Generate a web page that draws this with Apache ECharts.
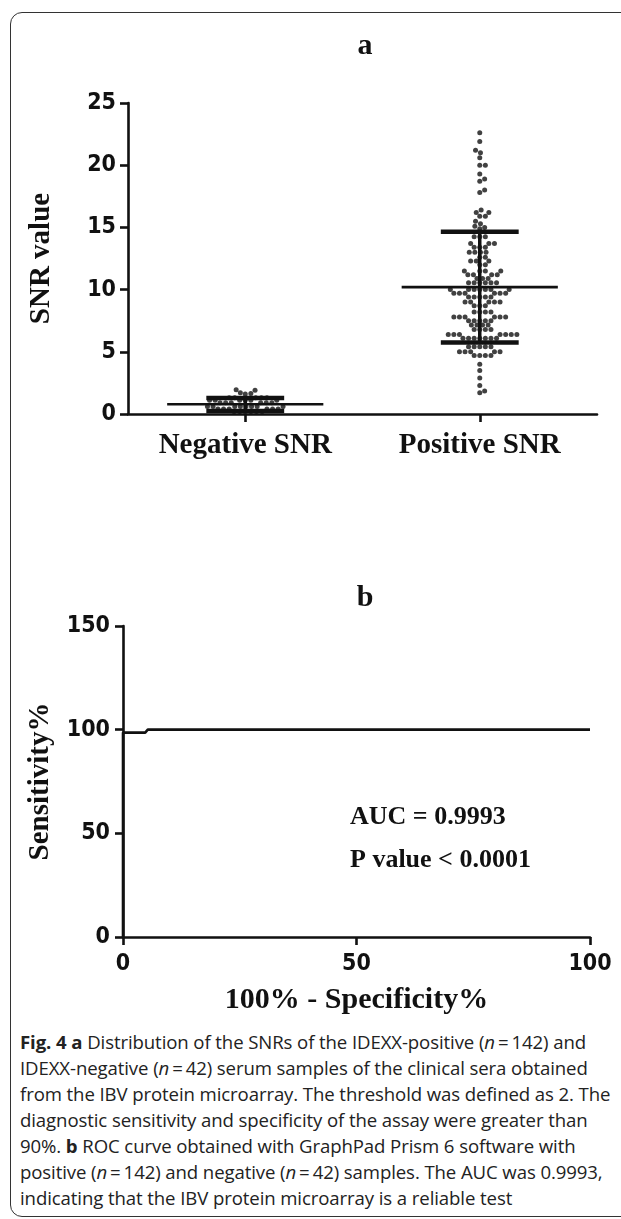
<!DOCTYPE html>
<html>
<head>
<meta charset="utf-8">
<script src="https://cdn.jsdelivr.net/npm/echarts@6/dist/echarts.min.js"></script>
<style>
  html, body { margin: 0; padding: 0; background: #fff; }
  #frame { position: absolute; left: 10px; top: 12px; width: 660px; height: 1205px;
           border: 1.5px solid #333; border-radius: 12px; box-sizing: border-box; }
  #main { position: absolute; left: 0; top: 0; width: 621px; height: 1020px; }
  #caption { position: absolute; left: 20px; top: 1029px; width: 600px; letter-spacing: -0.1px;
             font-family: "Open Sans"; font-size: 18.6px; line-height: 26px; color: #222; }
</style>
</head>
<body>
<div id="frame"></div>
<div id="main"></div>
<div id="caption"><b>Fig. 4 a</b> Distribution of the SNRs of the IDEXX-positive (<i>n</i>&#8201;=&#8201;142) and IDEXX-negative (<i>n</i>&#8201;=&#8201;42) serum samples of the clinical sera obtained from the IBV protein microarray. The threshold was defined as 2. The diagnostic sensitivity and specificity of the assay were greater than 90%. <b>b</b> ROC curve obtained with GraphPad Prism 6 software with positive (<i>n</i>&#8201;=&#8201;142) and negative (<i>n</i>&#8201;=&#8201;42) samples. The AUC was 0.9993, indicating that the IBV protein microarray is a reliable test</div>

<script>
// panel a: SNR values (rows of the swarm)
const groupNames = ['Negative SNR', 'Positive SNR']
const negativeSNR = [
  1.95, 1.9, 1.7, 1.65, 1.6,
  1.3, 1.3, 1.3, 1.3, 1.3,
  1.1, 1.1, 1.1, 1.1, 1.1, 1.1,
  0.9, 0.9, 0.9, 0.9, 0.9, 0.9,
  0.6, 0.6, 0.6, 0.6, 0.6, 0.6, 0.6, 0.6,
  0.4, 0.4, 0.4, 0.4, 0.4, 0.4,
  0.2, 0.2, 0.2, 0.2, 0.2, 0.2
]
const positiveSNR = [
  22.6, 21.9, 21.2, 21.0, 20.6, 20.0, 20.0, 19.3, 18.9, 18.7, 18.0, 17.8,
  16.4, 16.2, 16.2, 15.9, 15.9, 15.5, 15.3, 15.1, 15.0, 14.9,
  14.25, 14.25, 14.25, 13.7, 13.7, 13.7, 13.4, 13.4, 13.4,
  13.0, 13.0, 13.0, 13.0, 12.6, 12.6, 12.3, 12.3, 12.3, 12.0, 12.0,
  11.5, 11.5, 11.5, 11.5, 11.2, 11.2, 11.2, 11.2, 10.9, 10.9, 10.9,
  10.55, 10.55, 10.55, 10.55, 10.55, 10.55,
  10.0, 10.0, 10.0, 10.0, 10.0, 10.0, 10.0,
  9.7, 9.7, 9.7, 9.7, 9.7, 9.7, 9.4, 9.4, 9.4, 9.4, 9.4,
  9.0, 9.0, 9.0, 9.0, 9.0, 8.7, 8.7, 8.7, 8.2, 8.2, 8.2, 8.2,
  7.8, 7.8, 7.8, 7.8, 7.8, 7.8, 7.5, 7.5, 7.5, 7.5, 7.5,
  7.15, 7.15, 7.15, 7.15, 6.8, 6.8, 6.8, 6.8,
  6.4, 6.4, 6.4, 6.4, 6.4, 6.4, 6.4,
  6.08, 6.08, 6.08, 6.08, 6.08, 6.08, 6.08,
  5.4, 5.4, 5.4, 5.4, 5.4, 5.0, 5.0, 5.0, 5.0, 5.0, 4.7, 4.7, 4.7, 4.7,
  4.0, 3.5, 2.9, 2.3, 1.85, 1.7
]
// mean and mean±SD bars as drawn
const meanValues = [0.78, 10.2]
const sdLow = [0.25, 5.75]
const sdHigh = [1.28, 14.65]

// panel b: ROC curve
const rocX = [0, 0, 4.76, 5.3, 100]
const rocY = [0, 98.59, 98.59, 100, 100]
const aucText = 'AUC = 0.9993'
const pText = 'P value < 0.0001'

const narrow = '"Liberation Sans Narrow", "DejaVu Sans Condensed", sans-serif'
const serif = '"Liberation Serif", "DejaVu Serif", serif'
const ink = '#111'
const groupX = [0.5, 1.5]

// simple beeswarm so the dots do not overlap (pixel space of grid a)
function swarm (values, center) {
  const dot = 5
  const pxPerY = 311 / 25
  const pxPerX = 469 / 2
  const placed = []
  return values.slice().sort((a, b) => a - b).map(v => {
    const y = v * pxPerY
    let off = 0
    for (let k = 0; k < 300; k++) {
      const cand = (k % 2 ? 1 : -1) * Math.ceil(k / 2) * 0.7
      if (placed.every(p => (p[0] - cand) ** 2 + (p[1] - y) ** 2 >= dot * dot)) { off = cand; break }
    }
    placed.push([off, y])
    return [center + off / pxPerX, v]
  })
}

const line = { show: true, lineStyle: { color: ink, width: 2.6 } }
const tick = { show: true, length: 8, lineStyle: { color: ink, width: 2.6 } }
const tickLabel = { fontFamily: narrow, fontWeight: 'bold', fontSize: 23, color: ink }

const myChart = echarts.init(document.getElementById('main'))
myChart.setOption({
  animation: false,
  grid: [
    { left: 128, top: 103, width: 469, height: 311 },
    { left: 123, top: 626, width: 467, height: 311 }
  ],
  xAxis: [
    {
      gridIndex: 0, type: 'value', min: 0, max: 2,
      axisLine: line,
      axisTick: Object.assign({}, tick, { customValues: groupX }),
      splitLine: { show: false },
      axisLabel: {
        customValues: groupX, margin: 17,
        formatter: v => groupNames[groupX.indexOf(v)],
        fontFamily: serif, fontWeight: 'bold', fontSize: 29, color: ink
      }
    },
    {
      gridIndex: 1, type: 'value', min: 0, max: 100, interval: 50,
      axisLine: line, axisTick: tick, splitLine: { show: false },
      axisLabel: Object.assign({ margin: 16 }, tickLabel),
      name: '100% - Specificity%', nameLocation: 'middle', nameGap: 48,
      nameTextStyle: { fontFamily: serif, fontWeight: 'bold', fontSize: 30, color: ink }
    }
  ],
  yAxis: [
    {
      gridIndex: 0, type: 'value', min: 0, max: 25, interval: 5,
      axisLine: line, axisTick: tick, splitLine: { show: false },
      axisLabel: Object.assign({ margin: 12 }, tickLabel),
      name: 'SNR value', nameLocation: 'middle', nameGap: 72,
      nameTextStyle: { fontFamily: serif, fontWeight: 'bold', fontSize: 29, color: ink }
    },
    {
      gridIndex: 1, type: 'value', min: 0, max: 150, interval: 50,
      axisLine: line, axisTick: tick, splitLine: { show: false },
      axisLabel: Object.assign({ margin: 13 }, tickLabel),
      name: 'Sensitivity%', nameLocation: 'middle', nameGap: 68,
      nameTextStyle: { fontFamily: serif, fontWeight: 'bold', fontSize: 29, color: ink }
    }
  ],
  graphic: [
    { type: 'text', x: 365, y: 46, style: { text: 'a', textAlign: 'center', textVerticalAlign: 'middle', font: 'bold 30px ' + serif, fill: ink } },
    { type: 'text', x: 365, y: 598, style: { text: 'b', textAlign: 'center', textVerticalAlign: 'middle', font: 'bold 30px ' + serif, fill: ink } },
    { type: 'text', x: 350, y: 817, style: { text: aucText, textVerticalAlign: 'middle', font: 'bold 26px ' + serif, fill: ink } },
    { type: 'text', x: 350, y: 860, style: { text: pText, textVerticalAlign: 'middle', font: 'bold 26px ' + serif, fill: ink } }
  ],
  series: [
    {
      type: 'scatter', xAxisIndex: 0, yAxisIndex: 0, symbolSize: 5,
      itemStyle: { color: ink },
      data: swarm(negativeSNR, groupX[0]).concat(swarm(positiveSNR, groupX[1]))
    },
    {
      type: 'custom', xAxisIndex: 0, yAxisIndex: 0, z: 5,
      data: groupX.map((x, i) => [x, meanValues[i], sdLow[i], sdHigh[i]]),
      renderItem (params, api) {
        const x = api.value(0)
        const m = api.coord([x, api.value(1)])
        const lo = api.coord([x, api.value(2)])
        const hi = api.coord([x, api.value(3)])
        const wMean = api.size([0.333, 0])[0]
        const wSd = api.size([0.166, 0])[0]
        return {
          type: 'group',
          children: [
            { type: 'line', shape: { x1: hi[0], y1: hi[1], x2: lo[0], y2: lo[1] }, style: { stroke: ink, lineWidth: 3.5 } },
            { type: 'line', shape: { x1: m[0] - wMean, y1: m[1], x2: m[0] + wMean, y2: m[1] }, style: { stroke: ink, lineWidth: 2.6 } },
            { type: 'line', shape: { x1: hi[0] - wSd, y1: hi[1], x2: hi[0] + wSd, y2: hi[1] }, style: { stroke: ink, lineWidth: 4.5 } },
            { type: 'line', shape: { x1: lo[0] - wSd, y1: lo[1], x2: lo[0] + wSd, y2: lo[1] }, style: { stroke: ink, lineWidth: 4.5 } }
          ]
        }
      }
    },
    {
      type: 'line', xAxisIndex: 1, yAxisIndex: 1, showSymbol: false,
      lineStyle: { color: ink, width: 2.6 },
      data: rocX.map((x, i) => [x, rocY[i]])
    }
  ]
})
</script>
</body>
</html>
